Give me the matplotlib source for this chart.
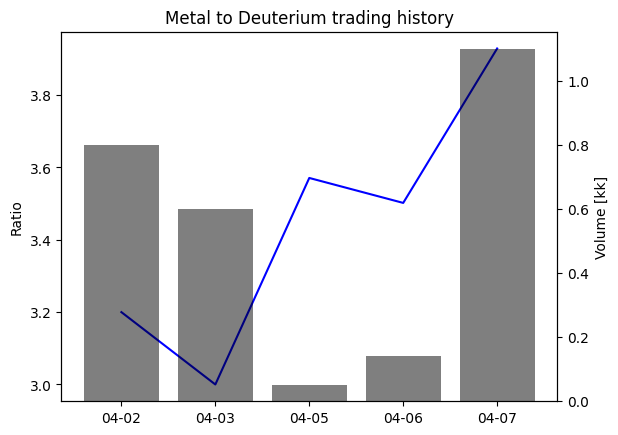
import matplotlib
matplotlib.use("Agg")
import matplotlib.pyplot as plt

dates = ["04-02", "04-03", "04-05", "04-06", "04-07"]
ratio = [3.2, 3.0, 3.571, 3.502, 3.929]
volume = [0.8, 0.6, 0.05, 0.14, 1.1]

fig, ax = plt.subplots(figsize=(6.4, 4.8), dpi=100)
ax.plot(dates, ratio, color="blue")
ax.set_ylabel("Ratio")
ax.set_title("Metal to Deuterium trading history")

ax2 = ax.twinx()
ax2.bar(dates, volume, color="black", alpha=0.5)
ax2.set_ylabel("Volume [kk]")

fig.savefig("out.png", bbox_inches="tight")
